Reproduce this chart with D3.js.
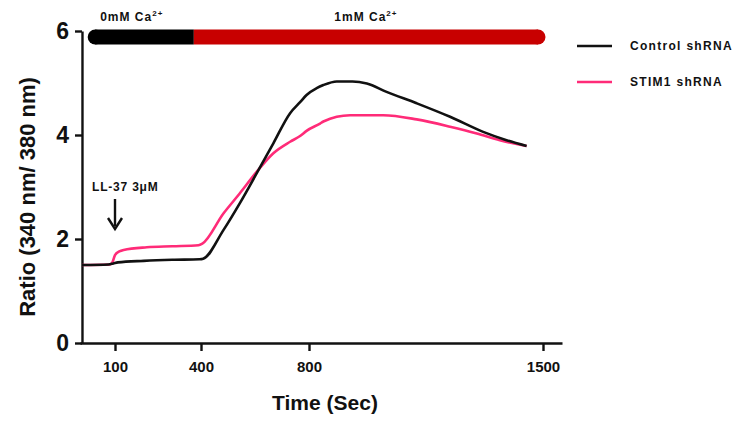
<!DOCTYPE html>
<html>
<head>
<meta charset="utf-8">
<script src="https://cdn.jsdelivr.net/npm/d3@7/dist/d3.min.js"></script>
<style>
  html, body { margin: 0; padding: 0; background: #fff; }
  svg { display: block; font-family: "Liberation Sans", Arial, sans-serif; }
  .axis path, .axis line { stroke: #111; stroke-width: 2.4px; }
  .axis text { fill: #111; font-weight: bold; }
</style>
</head>
<body>
<svg id="chart" width="756" height="423"></svg>
<script>
// Time points (s) and fura-2 ratio for each trace
const controlTime  = [0, 80, 95, 110, 200, 300, 395, 408, 483, 544, 606, 668, 730, 767, 791, 823, 843, 883, 930, 973, 1032, 1122, 1222, 1321, 1391, 1451];
const controlRatio = [1.50, 1.51, 1.53, 1.55, 1.58, 1.60, 1.61, 1.62, 2.17, 2.69, 3.26, 3.84, 4.42, 4.63, 4.77, 4.90, 4.96, 5.03, 5.03, 4.99, 4.83, 4.61, 4.35, 4.06, 3.90, 3.79];

const stimTime  = [0, 85, 92, 100, 115, 130, 211, 300, 391, 405, 483, 544, 606, 668, 730, 767, 791, 833, 843, 923, 1022, 1122, 1222, 1302, 1371, 1451];
const stimRatio = [1.50, 1.51, 1.55, 1.69, 1.76, 1.79, 1.84, 1.86, 1.88, 1.91, 2.49, 2.88, 3.29, 3.65, 3.87, 3.98, 4.08, 4.22, 4.26, 4.38, 4.38, 4.30, 4.16, 4.03, 3.90, 3.79];

const seriesNames  = ["Control shRNA", "STIM1 shRNA"];
const seriesColors = ["#111111", "#ff2b78"];

// Perfusion periods shown in the bar above the traces
const periodStart = [40, 375];
const periodEnd   = [375, 1485];
const periodLabel = ["0mM Ca", "1mM Ca"];
const periodColor = ["#000000", "#c80000"];

const xTicks = [100, 400, 800, 1500];
const yTicks = [0, 2, 4, 6];
const stimulusTime = 100;
const stimulusLabel = "LL-37 3\u03bcM";

const svg = d3.select("#chart");

// Time axis is piecewise linear between the labelled ticks
const x = d3.scaleLinear()
  .domain([-6, 100, 400, 800, 1500, 1557])
  .range([80, 115, 201, 309, 543, 562]);
const y = d3.scaleLinear().domain([0, 6]).range([343, 31]);

// Axes
const gx = svg.append("g").attr("class", "axis")
  .attr("transform", `translate(0,${y(0)})`)
  .call(d3.axisBottom(x).tickValues(xTicks).tickSize(8).tickSizeOuter(0).tickPadding(10).tickFormat(d3.format("d")));
gx.selectAll("text").style("font-size", "15px");

const gy = svg.append("g").attr("class", "axis")
  .attr("transform", `translate(${x(0)},0)`)
  .call(d3.axisLeft(y).tickValues(yTicks).tickSize(7).tickSizeOuter(0).tickPadding(6).tickFormat(d3.format("d")));
gy.selectAll("text").style("font-size", "23px");

// Axis titles
svg.append("text")
  .attr("transform", `translate(35,${(y(0) + y(6)) / 2 + 10}) rotate(-90)`)
  .attr("text-anchor", "middle")
  .style("font-size", "22px").style("font-weight", "bold").attr("fill", "#111")
  .text("Ratio (340 nm/ 380 nm)");

svg.append("text")
  .attr("x", 325).attr("y", 410)
  .attr("text-anchor", "middle")
  .style("font-size", "21px").style("font-weight", "bold").attr("fill", "#111")
  .text("Time (Sec)");

// Traces
const line = d3.line().curve(d3.curveMonotoneX).x(d => x(d[0])).y(d => y(d[1]));
const traces = [
  d3.zip(controlTime, controlRatio),
  d3.zip(stimTime, stimRatio)
];
// draw STIM1 first so the control trace sits on top where they merge
[1, 0].forEach(i => {
  svg.append("path")
    .datum(traces[i])
    .attr("d", line)
    .attr("fill", "none")
    .attr("stroke", seriesColors[i])
    .attr("stroke-width", 2.6)
    .attr("stroke-linejoin", "round");
});

// Perfusion bar
const barY = 37, barW = 15;
periodStart.forEach((s, i) => {
  svg.append("line")
    .attr("x1", x(s)).attr("x2", x(periodEnd[i]))
    .attr("y1", barY).attr("y2", barY)
    .attr("stroke", periodColor[i]).attr("stroke-width", barW);
  const tx = i === 0 ? x(s) + 5 : (x(s) + x(periodEnd[i])) / 2;
  const t = svg.append("text")
    .attr("x", tx).attr("y", 21)
    .attr("text-anchor", i === 0 ? "start" : "middle")
    .style("font-size", "12px").style("font-weight", "bold")
    .style("letter-spacing", "1px").attr("fill", "#111")
    .text(periodLabel[i]);
  t.append("tspan").attr("dy", -5).style("font-size", "8px").text("2+");
});
// rounded outer ends of the bar
svg.append("circle").attr("cx", x(periodStart[0])).attr("cy", barY).attr("r", barW / 2).attr("fill", periodColor[0]);
svg.append("circle").attr("cx", x(periodEnd[1])).attr("cy", barY).attr("r", barW / 2).attr("fill", periodColor[1]);

// Stimulus marker
svg.append("text")
  .attr("x", x(stimulusTime) - 23).attr("y", 191)
  .style("font-size", "12px").style("font-weight", "bold")
  .style("letter-spacing", "0.8px").attr("fill", "#111")
  .text(stimulusLabel);
svg.append("line")
  .attr("x1", x(stimulusTime)).attr("x2", x(stimulusTime))
  .attr("y1", 199).attr("y2", 226)
  .attr("stroke", "#111").attr("stroke-width", 2.4);
svg.append("path")
  .attr("d", `M${x(stimulusTime) - 7},${218} L${x(stimulusTime)},${229} L${x(stimulusTime) + 7},${218}`)
  .attr("fill", "none").attr("stroke", "#111").attr("stroke-width", 2.4);

// Legend
seriesNames.forEach((name, i) => {
  const ly = 46 + i * 36;
  svg.append("line")
    .attr("x1", 577).attr("x2", 612).attr("y1", ly).attr("y2", ly)
    .attr("stroke", seriesColors[i]).attr("stroke-width", 2.6);
  svg.append("text")
    .attr("x", 630).attr("y", ly + 4)
    .style("font-size", "12px").style("font-weight", "bold")
    .style("letter-spacing", "1.3px").attr("fill", "#111")
    .text(name);
});
</script>
</body>
</html>
